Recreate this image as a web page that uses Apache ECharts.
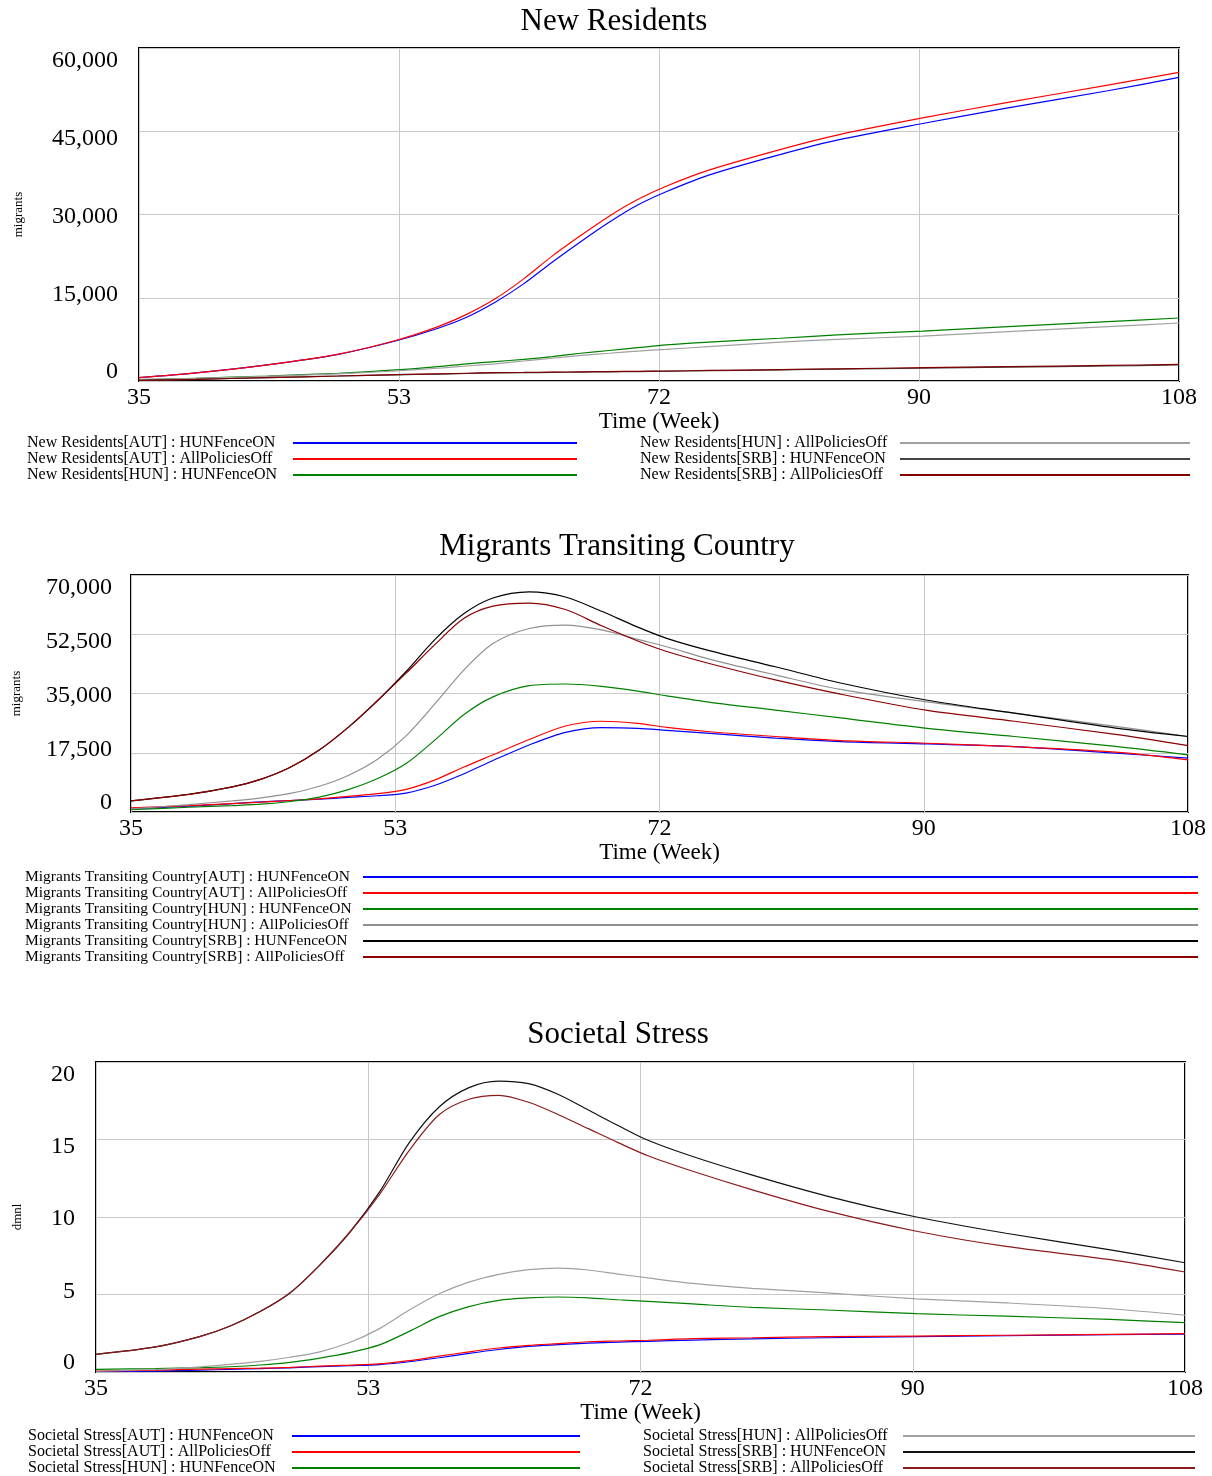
<!DOCTYPE html>
<html><head><meta charset="utf-8">
<script src="https://cdn.jsdelivr.net/npm/echarts@6/dist/echarts.min.js"></script>
<style>html,body{margin:0;padding:0;background:#fff}#c{width:1212px;height:1476px}</style>
</head><body><div id="c"></div>
<script>
// ---------- data ----------
const WEEK0 = 35;
const TIME_TICKS = ['35', '53', '72', '90', '108'];
const SCEN = ['[AUT] : HUNFenceON', '[AUT] : AllPoliciesOff', '[HUN] : HUNFenceON',
              '[HUN] : AllPoliciesOff', '[SRB] : HUNFenceON', '[SRB] : AllPoliciesOff'];

// New Residents
const nrWeeks = [35, 39, 44, 49, 53, 56, 58, 60, 62, 64, 66, 68, 70, 72, 75, 80, 84, 90, 96, 103, 108];
const nrTicks = ['0', '15,000', '30,000', '45,000', '60,000'];
const nrAutFenceOn = [600,1450,2900,4800,7200,9500,11500,14200,17500,21400,25100,28600,31700,34100,37100,40800,43400,46400,49200,52300,54700];
const nrAutOff     = [600,1450,2900,4850,7300,9800,12000,14800,18400,22500,26200,29700,32700,35100,38000,41700,44300,47400,50200,53300,55600];
const nrHunFenceOn = [200,500,900,1400,2000,2600,3100,3500,3900,4400,5000,5500,6000,6500,7000,7700,8300,9000,9800,10700,11350];
const nrHunOff     = [300,500,850,1300,1800,2300,2700,3100,3600,4100,4600,5000,5400,5700,6200,7000,7500,8100,8900,9800,10450];
const nrSrbFenceOn = [100,300,600,900,1100,1250,1350,1450,1500,1550,1600,1650,1700,1750,1850,2000,2150,2300,2500,2700,2900];
const nrSrbOff     = [100,300,600,900,1150,1300,1400,1500,1550,1600,1650,1700,1750,1800,1900,2050,2200,2400,2600,2800,3000];

// Migrants Transiting Country
const mtWeeks = [35,39,42,44,46,48,50,52,54,56,58,60,62.5,65,67.5,70,72,75,79.5,84,90,96,103,108];
const mtTicks = ['0', '17,500', '35,000', '52,500', '70,000'];
const mtAutFenceOn = [1000,1700,2500,3000,3400,3800,4300,4800,5600,7900,11300,15200,19800,23500,24900,24700,24100,23200,21800,20800,20100,19300,17400,15900];
const mtAutOff     = [1200,1900,2500,2900,3400,3900,4600,5400,6700,9500,13300,16900,21400,25400,26800,26200,25000,23700,22300,21100,20300,19300,17700,15400];
const mtHunFenceOn = [700,1400,1900,2300,3100,4400,6600,9800,14300,21300,28800,34000,37300,37800,37100,35700,34300,32400,30100,27800,24700,22300,19400,16900];
const mtHunOff     = [900,2200,3300,4200,5500,7600,10800,15500,22500,32000,42000,49800,54200,55200,53800,51000,48800,45100,40500,36200,32500,29200,25300,22300];
const mtSrbFenceOn = [3300,5200,7400,9700,13200,18300,25000,32800,41500,51000,58600,63200,65000,63500,59300,54600,51300,47600,42900,38100,33000,29200,24800,22300];
const mtSrbOff     = [3300,5200,7400,9700,13200,18300,25000,32800,41000,49500,57200,60800,61700,59800,55000,50500,47400,43800,39000,34800,30000,26800,22900,19600];

// Societal Stress
const ssWeeks = [35,39,42,44,46,48,50,52,54,56,58,60,62,64,66,68,70,72,75,79,84,90,96,103,108];
const ssTicks = ['0', '5', '10', '15', '20'];
const ssAutFenceOn = [0.02,0.06,0.12,0.17,0.22,0.27,0.35,0.41,0.48,0.66,0.92,1.2,1.45,1.65,1.76,1.86,1.93,1.98,2.06,2.14,2.21,2.28,2.34,2.41,2.45];
const ssAutOff     = [0.06,0.12,0.18,0.22,0.25,0.3,0.38,0.44,0.52,0.73,1.02,1.3,1.55,1.72,1.83,1.95,2.0,2.05,2.15,2.21,2.28,2.32,2.37,2.43,2.47];
const ssHunFenceOn = [0.17,0.22,0.28,0.34,0.45,0.62,0.9,1.25,1.75,2.62,3.57,4.22,4.62,4.78,4.84,4.78,4.66,4.56,4.39,4.17,4.0,3.76,3.6,3.39,3.18];
const ssHunOff     = [0.06,0.16,0.33,0.49,0.68,0.95,1.3,1.9,2.8,4.0,5.05,5.8,6.3,6.6,6.7,6.58,6.32,6.07,5.72,5.4,5.1,4.72,4.46,4.08,3.66];
const ssSrbFenceOn = [1.14,1.62,2.3,2.97,3.9,5.1,6.9,9.0,11.6,14.8,17.1,18.35,18.77,18.6,17.9,16.9,15.9,14.95,13.9,12.7,11.35,10.0,8.95,7.88,7.05];
const ssSrbOff     = [1.14,1.62,2.3,2.97,3.9,5.1,6.9,9.0,11.45,14.3,16.6,17.6,17.85,17.4,16.6,15.7,14.8,13.95,12.95,11.75,10.39,9.08,8.1,7.25,6.45];

// ---------- build ----------
const FONT = '"Liberation Serif", "Times New Roman", serif';
const COLORS = [
  ['#0000ff', '#ff0000', '#008000', '#a0a0a0', '#444444', '#800000'],
  ['#0000ff', '#ff0000', '#008000', '#909090', '#000000', '#8b0000'],
  ['#0000ff', '#ff0000', '#008000', '#a0a0a0', '#111111', '#8b1a1a']
];
const panels = [
  { title: 'New Residents', titleX: 614, titleTop: 6, grid: {left: 139, top: 48, width: 1040, height: 333},
    weeks: nrWeeks, ticks: nrTicks, max: 60000, unit: 'migrants', unitGap: 114, labMargin: 21,
    series: [nrAutFenceOn, nrAutOff, nrHunFenceOn, nrHunOff, nrSrbFenceOn, nrSrbOff] },
  { title: 'Migrants Transiting Country', titleX: 617, titleTop: 531, grid: {left: 131, top: 575, width: 1057, height: 237},
    weeks: mtWeeks, ticks: mtTicks, max: 70000, unit: 'migrants', unitGap: 108, labMargin: 19,
    series: [mtAutFenceOn, mtAutOff, mtHunFenceOn, mtHunOff, mtSrbFenceOn, mtSrbOff] },
  { title: 'Societal Stress', titleX: 618, titleTop: 1019, grid: {left: 96, top: 1062, width: 1089, height: 310},
    weeks: ssWeeks, ticks: ssTicks, max: 20, unit: 'dmnl', unitGap: 72, labMargin: 21,
    series: [ssAutFenceOn, ssAutOff, ssHunFenceOn, ssHunOff, ssSrbFenceOn, ssSrbOff] }
];
const prefixes = ['New Residents', 'Migrants Transiting Country', 'Societal Stress'];

const offsets = [[0,0,18,0],[0,0,6,0],[4,0,0,0],[14,0,0,0],[26,0,0,0]];
const rich = {};
offsets.forEach((p, i) => { rich['o' + i] = {padding: p, fontFamily: FONT, fontSize: 24, color: '#000', lineHeight: 24}; });

const option = { animation: false, backgroundColor: '#fff', title: [], grid: [], xAxis: [], yAxis: [], series: [], legend: [] };

panels.forEach((p, k) => {
  option.title.push({ text: p.title, left: p.titleX, top: p.titleTop, textAlign: 'center', padding: 0,
    textStyle: { fontFamily: FONT, fontSize: 31, fontWeight: 'normal', color: '#000' } });
  option.grid.push(Object.assign({ show: true, borderColor: '#000', borderWidth: 2, containLabel: false }, p.grid));
  option.xAxis.push({ type: 'value', gridIndex: k, min: 0, max: 73, interval: 18.25,
    axisLine: {show: false}, axisTick: {show: false},
    splitLine: {show: true, lineStyle: {color: '#c8c8c8', width: 1}},
    axisLabel: { margin: 5, fontFamily: FONT, fontSize: 24, color: '#000',
      formatter: v => TIME_TICKS[Math.round(v / 18.25)] },
    name: 'Time (Week)', nameLocation: 'middle', nameGap: 29,
    nameTextStyle: { fontFamily: FONT, fontSize: 23, color: '#000' } });
  option.yAxis.push({ type: 'value', gridIndex: k, min: 0, max: p.max, interval: p.max / 4,
    axisLine: {show: false}, axisTick: {show: false},
    splitLine: {show: true, lineStyle: {color: '#c8c8c8', width: 1}},
    axisLabel: { margin: p.labMargin, fontFamily: FONT, fontSize: 24, color: '#000', rich: rich,
      formatter: v => { const i = Math.round(v / (p.max / 4)); return '{o' + i + '|' + p.ticks[i] + '}'; } },
    name: p.unit, nameLocation: 'middle', nameRotate: 90, nameGap: p.unitGap,
    nameTextStyle: { fontFamily: FONT, fontSize: 13, color: '#000' } });
  p.series.forEach((vals, j) => {
    option.series.push({ type: 'line', name: prefixes[k] + SCEN[j], xAxisIndex: k, yAxisIndex: k,
      symbol: 'none', smooth: 0.3, color: COLORS[k][j], lineStyle: {width: 1.2, color: COLORS[k][j]},
      data: p.weeks.map((w, i) => [w - WEEK0, vals[i]]) });
  });
});

function leg(names, left, top, textBox, lineLen, fs) {
  return { data: names, left: left, top: top, orient: 'vertical', align: 'right',
    icon: 'rect', itemWidth: lineLen, itemHeight: 2, itemGap: 0, padding: 0, selectedMode: false,
    formatter: '{a|{name}}',
    textStyle: { fontFamily: FONT, fontSize: fs, color: '#000', lineHeight: 16,
      rich: { a: { width: textBox, align: 'left', fontFamily: FONT, fontSize: fs, color: '#000', lineHeight: 16 } } } };
}
option.legend.push(leg([0,1,2].map(j => prefixes[0] + SCEN[j]), 27, 435, 261, 284, 16));
option.legend.push(leg([3,4,5].map(j => prefixes[0] + SCEN[j]), 640, 435, 255, 290, 16));
option.legend.push(leg([0,1,2,3,4,5].map(j => prefixes[1] + SCEN[j]), 25, 869, 333, 835, 15.5));
option.legend.push(leg([0,1,2].map(j => prefixes[2] + SCEN[j]), 28, 1428, 259, 288, 16));
option.legend.push(leg([3,4,5].map(j => prefixes[2] + SCEN[j]), 643, 1428, 255, 292, 16));

const chart = echarts.init(document.getElementById('c'), null, {renderer: 'canvas'});
chart.setOption(option);
</script>
</body></html>
